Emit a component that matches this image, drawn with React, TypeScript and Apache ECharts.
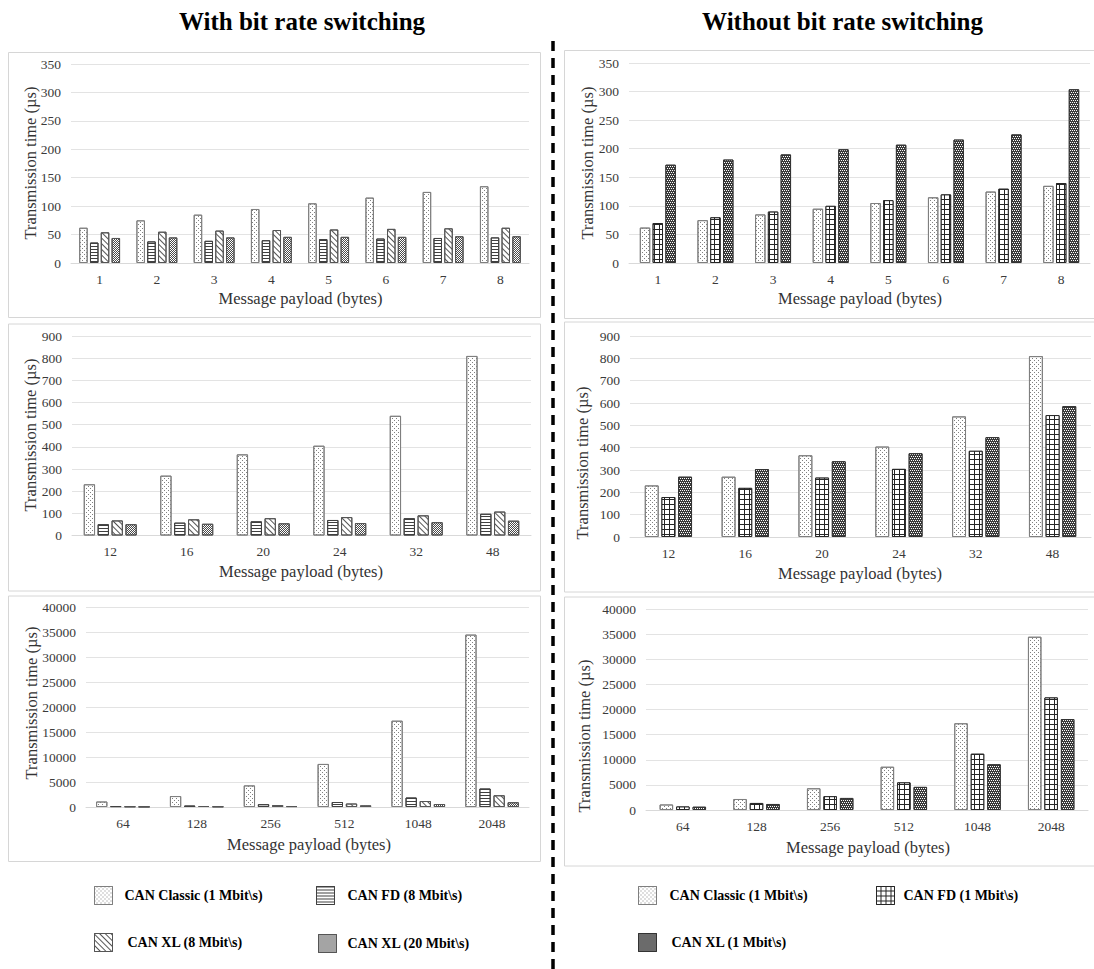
import React, { useEffect, useRef } from "react";
import * as echarts from "echarts";

// ---------- categories ----------
const payloadSmall = ["1", "2", "3", "4", "5", "6", "7", "8"];
const payloadMid = ["12", "16", "20", "24", "32", "48"];
const payloadLarge = ["64", "128", "256", "512", "1048", "2048"];

// ---------- series names ----------
const N_CLASSIC = "CAN Classic (1 Mbit\\s)";
const N_FD8 = "CAN FD (8 Mbit\\s)";
const N_XL8 = "CAN XL (8 Mbit\\s)";
const N_XL20 = "CAN XL (20 Mbit\\s)";
const N_FD1 = "CAN FD (1 Mbit\\s)";
const N_XL1 = "CAN XL (1 Mbit\\s)";

// ---------- values (µs) ----------
const classicSmall = [62, 75, 85, 95, 105, 115, 125, 135];
const fd8Small = [36, 38, 39, 40, 42, 43, 44, 45];
const xl8Small = [54, 55, 57, 58, 59, 60, 61, 62];
const xl20Small = [44, 45, 45, 46, 46, 46, 47, 47];
const fd1Small = [70, 80, 90, 100, 110, 120, 130, 140];
const xl1Small = [172, 181, 190, 199, 207, 216, 225, 304];

const classicMid = [231, 270, 366, 405, 540, 810];
const fd8Mid = [51, 58, 64, 70, 78, 98];
const xl8Mid = [68, 73, 78, 83, 91, 108];
const xl20Mid = [51, 53, 55, 56, 60, 67];
const fd1Mid = [179, 220, 266, 305, 386, 546];
const xl1Mid = [270, 304, 339, 375, 447, 586];

const classicLarge = [1100, 2190, 4320, 8610, 17260, 34480];
const fd8Large = [170, 300, 560, 1000, 1900, 3700];
const xl8Large = [110, 200, 380, 700, 1200, 2350];
const xl20Large = [60, 100, 180, 330, 600, 950];
const fd1Large = [700, 1400, 2750, 5500, 11200, 22400];
const xl1Large = [650, 1200, 2400, 4600, 9100, 18100];

// ---------- texts ----------
const titleLeft = "With bit rate switching";
const titleRight = "Without bit rate switching";
const yTitle = "Transmission time (µs)";
const xTitle = "Message payload (bytes)";

const FONT = "Liberation Serif";

const styles: Record<string, any> = {
  [N_CLASSIC]: {
    color: "#ffffff",
    borderColor: "#7f7f7f",
    borderWidth: 1,
    decal: {
      symbol: "rect",
      symbolSize: 1,
      color: "#808080",
      backgroundColor: "#ffffff",
      dashArrayX: [[1, 3], [0, 2, 1, 1]],
      dashArrayY: [1, 1],
    },
  },
  [N_FD8]: {
    color: "#ffffff",
    borderColor: "#404040",
    borderWidth: 1,
    decal: {
      symbol: "rect",
      symbolSize: 1,
      color: "#404040",
      backgroundColor: "#ffffff",
      dashArrayX: [1, 0],
      dashArrayY: [1, 2],
    },
  },
  [N_XL8]: {
    color: "#ffffff",
    borderColor: "#555555",
    borderWidth: 1,
    decal: {
      symbol: "rect",
      symbolSize: 1,
      color: "#555555",
      backgroundColor: "#ffffff",
      dashArrayX: [1, 0],
      dashArrayY: [1, 3],
      rotation: Math.PI / 4,
    },
  },
  [N_XL20]: {
    color: "#ffffff",
    borderColor: "#555555",
    borderWidth: 1,
    decal: {
      symbol: "rect",
      symbolSize: 1,
      color: "#4a4a4a",
      backgroundColor: "#b0b0b0",
      dashArrayX: [[1, 1], [0, 1, 1, 0]],
      dashArrayY: [1, 0],
    },
  },
  [N_FD1]: {
    color: "#262626",
    borderColor: "#262626",
    borderWidth: 1,
    decal: {
      symbol: "rect",
      symbolSize: 1,
      color: "#ffffff",
      backgroundColor: "#262626",
      dashArrayX: [4, 1],
      dashArrayY: [4, 1],
    },
  },
  [N_XL1]: {
    color: "#3a3a3a",
    borderColor: "#333333",
    borderWidth: 1,
    decal: {
      symbol: "rect",
      symbolSize: 1,
      color: "#ffffff",
      backgroundColor: "#3a3a3a",
      dashArrayX: [[1, 1], [0, 1, 1, 0]],
      dashArrayY: [1, 1],
    },
  },
};

type Panel = {
  grid: { left: number; top: number; width: number; height: number };
  cats: string[];
  max: number;
  interval: number;
  series: [string, number[]][];
  barWidth: number;
  barGap: string;
  box: [number, number, number, number];
  yT: [number, number];
  xT: [number, number];
};

const panels: Panel[] = [
  {
    grid: { left: 71, top: 64, width: 458, height: 199 },
    cats: payloadSmall, max: 350, interval: 50,
    series: [[N_CLASSIC, classicSmall], [N_FD8, fd8Small], [N_XL8, xl8Small], [N_XL20, xl20Small]],
    barWidth: 8.5, barGap: "27%",
    box: [8, 52.5, 532, 265], yT: [30.5, 163], xT: [300.5, 298],
  },
  {
    grid: { left: 72, top: 336, width: 459, height: 199.5 },
    cats: payloadMid, max: 900, interval: 100,
    series: [[N_CLASSIC, classicMid], [N_FD8, fd8Mid], [N_XL8, xl8Mid], [N_XL20, xl20Mid]],
    barWidth: 11.3, barGap: "23%",
    box: [8, 324, 532, 267], yT: [30.5, 435], xT: [301, 571],
  },
  {
    grid: { left: 86, top: 607, width: 443, height: 200 },
    cats: payloadLarge, max: 40000, interval: 5000,
    series: [[N_CLASSIC, classicLarge], [N_FD8, fd8Large], [N_XL8, xl8Large], [N_XL20, xl20Large]],
    barWidth: 11.3, barGap: "25%",
    box: [8, 596, 532, 265.5], yT: [31, 703], xT: [309, 844],
  },
  {
    grid: { left: 629, top: 63, width: 461, height: 200 },
    cats: payloadSmall, max: 350, interval: 50,
    series: [[N_CLASSIC, classicSmall], [N_FD1, fd1Small], [N_XL1, xl1Small]],
    barWidth: 10.4, barGap: "23%",
    box: [564, 50.5, 540, 268], yT: [587, 163], xT: [860, 298],
  },
  {
    grid: { left: 630, top: 336, width: 461, height: 201 },
    cats: payloadMid, max: 900, interval: 100,
    series: [[N_CLASSIC, classicMid], [N_FD1, fd1Mid], [N_XL1, xl1Mid]],
    barWidth: 13.9, barGap: "20%",
    box: [564, 322, 540, 270], yT: [582, 463], xT: [860, 573],
  },
  {
    grid: { left: 646, top: 609, width: 442, height: 201 },
    cats: payloadLarge, max: 40000, interval: 5000,
    series: [[N_CLASSIC, classicLarge], [N_FD1, fd1Large], [N_XL1, xl1Large]],
    barWidth: 13.5, barGap: "22%",
    box: [564, 597, 540, 269], yT: [584, 736], xT: [868, 847],
  },
];

type LegendItem = { name: string; left: number; top: number; pad: number };
const legendItems: LegendItem[] = [
  { name: N_CLASSIC, left: 94, top: 886, pad: 7 },
  { name: N_FD8, left: 316, top: 886, pad: 8 },
  { name: N_XL8, left: 94, top: 933, pad: 10 },
  { name: N_XL20, left: 318, top: 934, pad: 6 },
  { name: N_CLASSIC, left: 638, top: 886, pad: 8 },
  { name: N_FD1, left: 876, top: 886, pad: 4 },
  { name: N_XL1, left: 638, top: 933, pad: 10 },
];

function buildOption() {
  const grid: any[] = [];
  const xAxis: any[] = [];
  const yAxis: any[] = [];
  const series: any[] = [];
  const graphic: any[] = [];

  panels.forEach((p, i) => {
    grid.push({ ...p.grid, containLabel: false, outerBoundsMode: "none" });
    xAxis.push({
      type: "category",
      gridIndex: i,
      data: p.cats,
      axisLine: { show: true, lineStyle: { color: "#d9d9d9", width: 1 } },
      axisTick: { show: false },
      axisLabel: { fontFamily: FONT, fontSize: 13.5, color: "#3a3a3a", margin: 9 },
      splitLine: { show: false },
    });
    yAxis.push({
      type: "value",
      gridIndex: i,
      min: 0,
      max: p.max,
      interval: p.interval,
      axisLine: { show: false },
      axisTick: { show: false },
      axisLabel: {
        fontFamily: FONT,
        fontSize: 13.5,
        color: "#3a3a3a",
        margin: 10,
        formatter: (v: number) => String(v),
      },
      splitLine: { show: true, lineStyle: { color: "#e3e3e3", width: 1 } },
    });
    p.series.forEach(([name, values]) => {
      series.push({
        type: "bar",
        name,
        xAxisIndex: i,
        yAxisIndex: i,
        data: values,
        barWidth: p.barWidth,
        barGap: p.barGap,
        itemStyle: styles[name],
        emphasis: { disabled: true },
      });
    });
    graphic.push({
      type: "rect",
      shape: { x: p.box[0] + 0.5, y: p.box[1], width: p.box[2], height: p.box[3] },
      style: { fill: "none", stroke: "#d6d6d6", lineWidth: 1 },
      z: -1,
    });
    graphic.push({
      type: "text",
      x: p.yT[0],
      y: p.yT[1],
      rotation: Math.PI / 2,
      style: {
        text: yTitle,
        fontFamily: FONT,
        fontSize: 16.5,
        fill: "#333333",
        textAlign: "center",
        textVerticalAlign: "middle",
      },
    });
    graphic.push({
      type: "text",
      x: p.xT[0],
      y: p.xT[1],
      style: {
        text: xTitle,
        fontFamily: FONT,
        fontSize: 16.5,
        fill: "#333333",
        textAlign: "center",
        textVerticalAlign: "middle",
      },
    });
  });

  graphic.push({
    type: "text",
    x: 302,
    y: 21,
    style: {
      text: titleLeft,
      fontFamily: FONT,
      fontSize: 25,
      fontWeight: "bold",
      fill: "#000",
      textAlign: "center",
      textVerticalAlign: "middle",
    },
  });
  graphic.push({
    type: "text",
    x: 842.5,
    y: 21,
    style: {
      text: titleRight,
      fontFamily: FONT,
      fontSize: 25,
      fontWeight: "bold",
      fill: "#000",
      textAlign: "center",
      textVerticalAlign: "middle",
    },
  });
  graphic.push({
    type: "line",
    shape: { x1: 553, y1: 41, x2: 553, y2: 969 },
    style: { stroke: "#000", lineWidth: 3.5, lineDash: [10, 7] },
  });

  const legend = legendItems.map((l) => ({
    show: true,
    data: [l.name],
    left: l.left,
    top: l.top,
    padding: 0,
    orient: "horizontal",
    icon: "rect",
    itemWidth: 18,
    itemHeight: 18,
    selectedMode: false,
    itemStyle: { borderWidth: 1 },
    textStyle: {
      fontFamily: FONT,
      fontSize: 14,
      fontWeight: "bold",
      color: "#000",
      padding: [0, 0, 0, l.pad],
    },
  }));

  return {
    animation: false,
    backgroundColor: "#ffffff",
    grid,
    xAxis,
    yAxis,
    series,
    legend,
    graphic,
    tooltip: { show: false },
  };
}

export default function App() {
  const ref = useRef<HTMLDivElement>(null);
  useEffect(() => {
    if (!ref.current) return;
    const chart = echarts.init(ref.current, null, { renderer: "svg" });
    chart.setOption(buildOption() as any);
    return () => chart.dispose();
  }, []);
  return (
    <div
      ref={ref}
      style={{ position: "absolute", left: 0, top: 0, width: 1094, height: 969, background: "#fff" }}
    />
  );
}
